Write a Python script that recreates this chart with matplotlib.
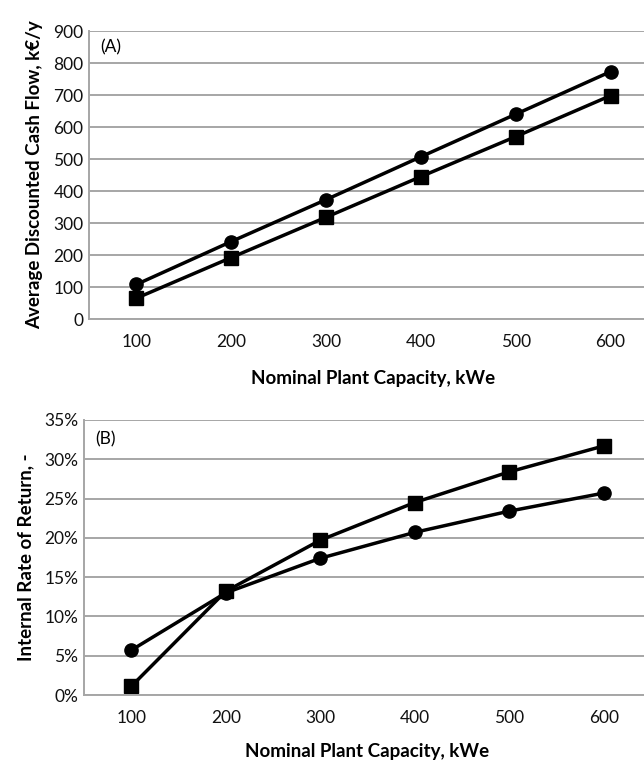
import matplotlib
matplotlib.use("Agg")
import matplotlib.pyplot as plt
from matplotlib.ticker import FuncFormatter

plt.rcParams["font.family"] = ["Lato", "DejaVu Sans"]

capacity = [100, 200, 300, 400, 500, 600]
cash_circle = [108, 242, 373, 507, 640, 773]
cash_square = [65, 192, 318, 445, 570, 698]
irr_circle = [5.7, 13.0, 17.4, 20.7, 23.4, 25.7]
irr_square = [1.1, 13.2, 19.7, 24.5, 28.4, 31.7]

W, H = 644, 763
fig = plt.figure(figsize=(W / 100, H / 100), dpi=100)

grid_c = "#a6a6a6"


def style(ax, ylim, step):
    ax.set_xlim(50, 650)
    ax.set_ylim(*ylim)
    ax.set_xticks(capacity)
    ax.set_yticks(range(ylim[0], ylim[1] + 1, step))
    ax.yaxis.grid(True, color=grid_c, lw=1.4)
    ax.set_axisbelow(True)
    for s in ["top", "right"]:
        ax.spines[s].set_visible(False)
    for s in ["left", "bottom"]:
        ax.spines[s].set_color(grid_c)
        ax.spines[s].set_linewidth(1.4)
    ax.tick_params(axis="both", labelsize=12.5, colors="#111111", length=0, pad=4)
    ax.tick_params(axis="x", pad=11)


# (A)
ax1 = fig.add_axes([89 / W, 1 - 319 / H, (658 - 89) / W, (319 - 31) / H])
style(ax1, (0, 900), 100)
ax1.plot(capacity, cash_circle, color="black", lw=2.5, marker="o", ms=9.5)
ax1.plot(capacity, cash_square, color="black", lw=2.5, marker="s", ms=9.5)
ax1.text(62, 850, "(A)", fontsize=12.5, va="center", ha="left")
ax1.set_xlabel("Nominal Plant Capacity, kWe", fontsize=13.5, fontweight="bold", labelpad=14)
ax1.set_ylabel("Average Discounted Cash Flow, k€/y", fontsize=13.5, fontweight="bold", labelpad=7)

# (B)
ax2 = fig.add_axes([84 / W, 1 - 695 / H, (651 - 84) / W, (695 - 420) / H])
style(ax2, (0, 35), 5)
ax2.yaxis.set_major_formatter(FuncFormatter(lambda v, p: f"{v:.0f}%"))
ax2.plot(capacity, irr_circle, color="black", lw=2.5, marker="o", ms=9.5)
ax2.plot(capacity, irr_square, color="black", lw=2.5, marker="s", ms=9.5)
ax2.text(62, 32.5, "(B)", fontsize=12.5, va="center", ha="left")
ax2.set_xlabel("Nominal Plant Capacity, kWe", fontsize=13.5, fontweight="bold", labelpad=12)
ax2.set_ylabel("Internal Rate of Return, -", fontsize=13.5, fontweight="bold", labelpad=7)

fig.savefig("out.png", dpi=100)
